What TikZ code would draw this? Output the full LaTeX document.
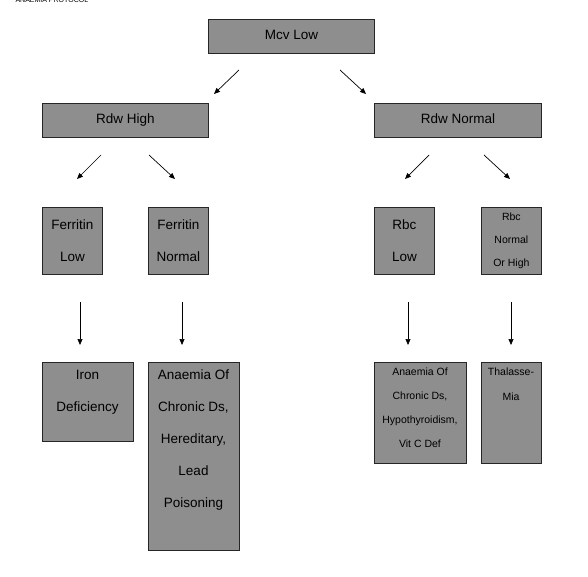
\documentclass[tikz,border=0pt]{standalone}
\usepackage{fontspec}
\setmainfont{Liberation Sans}
\usepackage{xcolor}
\usepackage{tikz}
\usetikzlibrary{arrows.meta,positioning}
\definecolor{boxgray}{RGB}{142,142,142}
\tikzset{
  box/.style={draw=black!85, fill=boxgray, line width=0.8pt, anchor=north west, inner sep=0pt, align=center},
  big/.style={font=\fontsize{13.5}{32}\selectfont, align=center},
  small/.style={font=\fontsize{10.5}{23}\selectfont, align=center},
  oneline/.style={text height=10pt, text depth=3pt},
  arr/.style={-{Triangle[length=6pt,width=5pt]}, line width=0.7pt},
}
\begin{document}
\begin{tikzpicture}[x=1pt,y=-1pt]
            \useasboundingbox (0,0) rectangle (588,577);
            \node[font=\fontsize{7}{8}\selectfont, anchor=base west] (title) at (12,2.5) {ANAEMIA PROTOCOL};
            % top level
            \node[box, big, oneline, minimum width=166pt, minimum height=34pt] (mcv) at (208,19) {Mcv Low};
            \node[box, big, oneline, minimum width=166pt, minimum height=34pt] (rdwhigh) at (42,103) {Rdw High};
            \node[box, big, oneline, minimum width=167pt, minimum height=34pt] (rdwnormal) at (374,103) {Rdw Normal};
            % second level
            \node[box, big, minimum width=60pt, minimum height=67pt] (ferlow) at (42,207) {Ferritin\\Low};
            \node[box, big, minimum width=60pt, minimum height=67pt] (fernormal) at (148,207) {Ferritin\\Normal};
            \node[box, big, minimum width=60pt, minimum height=67pt] (rbclow) at (374,207) {Rbc\\Low};
            \node[box, small, minimum width=60pt, minimum height=67pt] (rbchigh) at (481,207) {Rbc\\Normal\\Or High};
            % results
            \node[box, minimum width=91pt, minimum height=79pt] (iron) at (42,362) {};
            \node[big] (irontxt) at (87.5,392.5) {Iron\\Deficiency};
            \node[box, minimum width=91pt, minimum height=188pt] (chronic) at (148,362) {};
            \node[big] (chronictxt) at (193.5,440.5) {Anaemia Of\\Chronic Ds,\\Hereditary,\\Lead\\Poisoning};
            \node[box, minimum width=92pt, minimum height=101pt] (hypo) at (374,362) {};
            \node[small, font=\fontsize{10.5}{24}\selectfont] (hypotxt) at (420,407.5) {Anaemia Of\\Chronic Ds,\\Hypothyroidism,\\Vit C Def};
            \node[box, minimum width=60pt, minimum height=101pt] (thal) at (481,362) {};
            \node[small, font=\fontsize{10.5}{25}\selectfont] (thaltxt) at (511,384.5) {Thalasse-\\Mia};
            % arrow ends
            \coordinate (a1s) at (239,70);  \coordinate (a1e) at (214,94);
            \coordinate (a2s) at (340,70);  \coordinate (a2e) at (366,94);
            \coordinate (a3s) at (101,155); \coordinate (a3e) at (77,179);
            \coordinate (a4s) at (149,155); \coordinate (a4e) at (175,179);
            \coordinate (a5s) at (429,155); \coordinate (a5e) at (405,179);
            \coordinate (a6s) at (484,155); \coordinate (a6e) at (510,179);
            \coordinate (v1s) at (80,302);  \coordinate (v1e) at (80,345);
            \coordinate (v2s) at (182,302); \coordinate (v2e) at (182,345);
            \coordinate (v3s) at (408,302); \coordinate (v3e) at (408,345);
            \coordinate (v4s) at (511,302); \coordinate (v4e) at (511,345);
            \draw[arr] (a1s) -- (a1e);
            \draw[arr] (a2s) -- (a2e);
            \draw[arr] (a3s) -- (a3e);
            \draw[arr] (a4s) -- (a4e);
            \draw[arr] (a5s) -- (a5e);
            \draw[arr] (a6s) -- (a6e);
            \draw[arr] (v1s) -- (v1e);
            \draw[arr] (v2s) -- (v2e);
            \draw[arr] (v3s) -- (v3e);
            \draw[arr] (v4s) -- (v4e);
        \end{tikzpicture}
\end{document}
